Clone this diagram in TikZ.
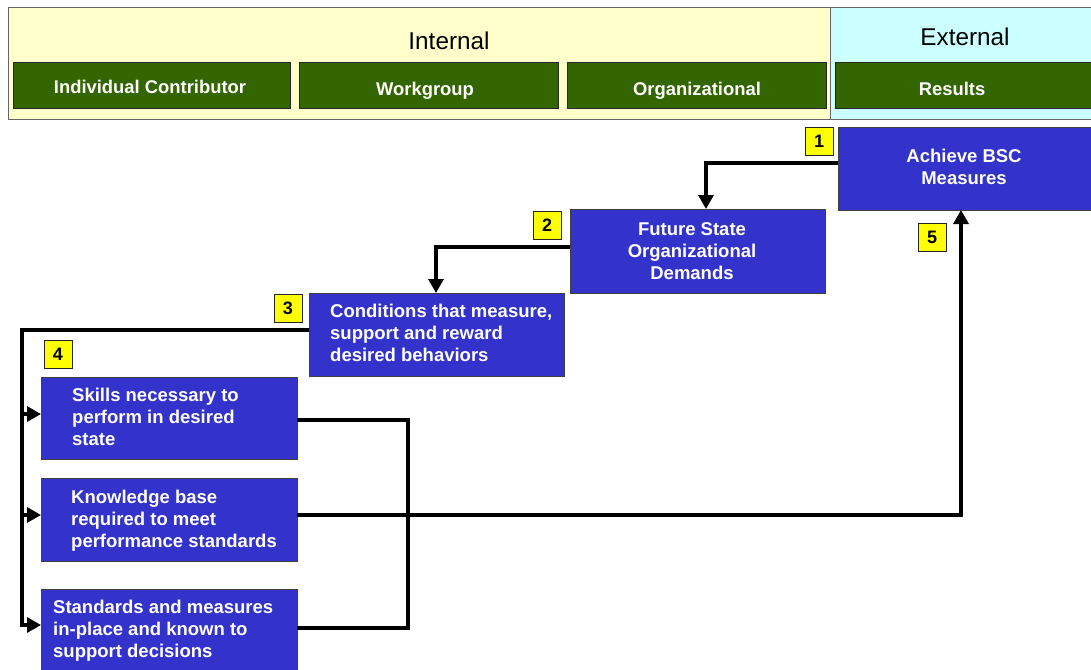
\documentclass[tikz,border=0pt]{standalone}
\usepackage{fontspec}
\setmainfont{Liberation Sans}
\usetikzlibrary{arrows.meta,calc}
\definecolor{hdrY}{HTML}{FFFFCC}
\definecolor{hdrC}{HTML}{CCFFFF}
\definecolor{grn}{HTML}{336600}
\definecolor{blu}{HTML}{3333CC}
\definecolor{numY}{HTML}{FFFF00}
\definecolor{edge}{HTML}{404040}
\begin{document}
\begin{tikzpicture}[x=1pt,y=-1pt,
  panel/.style={draw=edge!80, line width=1pt, inner sep=0pt, outer sep=0pt, anchor=north west},
  gbox/.style={fill=grn, draw=black!85, line width=1pt, inner sep=0pt, outer sep=0pt, anchor=north west},
  bbox/.style={fill=blu, draw=edge, line width=1pt, inner sep=0pt, outer sep=0pt, anchor=north west},
  gtext/.style={text=white, font=\bfseries\fontsize{18.4}{22}\selectfont, inner sep=0pt, anchor=base},
  htext/.style={text=black, font=\fontsize{24.3}{28}\selectfont, inner sep=0pt},
  btext/.style={text=white, font=\bfseries\fontsize{18.5}{22}\selectfont, inner sep=0pt},
  numbox/.style={fill=numY, draw=black!85, line width=1pt, minimum size=28pt, inner sep=0pt, outer sep=0pt, font=\bfseries\fontsize{18}{20}\selectfont},
  conn/.style={draw=black, line width=3.2pt, -{Triangle[length=14pt,width=15pt]}},
  plainline/.style={draw=black, line width=3.2pt}
]
\useasboundingbox (0,0) rectangle (1091,669);

% header panels
\node[panel, fill=hdrY, minimum width=822pt, minimum height=111pt] (internal) at (8,8) {};
\node[panel, fill=hdrC, minimum width=266pt, minimum height=111pt] (external) at (830,8) {};
\node[htext] (tint) at (449,41) {Internal};
\node[htext] (text) at (965,37) {External};

% green category boxes
\node[gbox, minimum width=277pt, minimum height=46pt] (ic) at (13,62) {};
\node[gbox, minimum width=259pt, minimum height=46pt] (wg) at (299,62) {};
\node[gbox, minimum width=259pt, minimum height=46pt] (org) at (567,62) {};
\node[gbox, minimum width=262pt, minimum height=46pt] (res) at (835,62) {};
\node[gtext] (tic) at (150,93) {Individual Contributor};
\node[gtext] (twg) at (425,95) {Workgroup};
\node[gtext] (torg) at (697,95) {Organizational};
\node[gtext] (tres) at (952,95) {Results};

% blue boxes
\node[bbox, minimum width=256pt, minimum height=83pt] (achieve) at (838,127) {};
\node[bbox, minimum width=255pt, minimum height=84pt] (future) at (570,209) {};
\node[bbox, minimum width=255pt, minimum height=83pt] (conditions) at (309,293) {};
\node[bbox, minimum width=256pt, minimum height=82pt] (skills) at (41,377) {};
\node[bbox, minimum width=256pt, minimum height=83pt] (knowledge) at (41,478) {};
\node[bbox, minimum width=256pt, minimum height=84pt] (standards) at (41,589) {};

\node[btext, align=center] (tach) at (964,167) {Achieve BSC\\Measures};
\node[btext, align=center] (tfut) at (692,251) {Future State\\Organizational\\Demands};
\node[btext, align=left, anchor=west] (tcond) at (330,333) {Conditions that measure,\\support and reward\\desired behaviors};
\node[btext, align=left, anchor=west] (tskills) at (72,417) {Skills necessary to\\perform in desired\\state};
\node[btext, align=left, anchor=west] (tknow) at (71,520.5) {Knowledge base\\required to meet\\performance standards};
\node[btext, align=left, anchor=west] (tstd) at (53,630.5) {Standards and measures\\in-place and known to\\support decisions};

% number tags
\node[numbox] (n1) at (819,141) {1};
\node[numbox] (n2) at (547,225) {2};
\node[numbox] (n3) at (288,308) {3};
\node[numbox] (n4) at (58,354) {4};
\node[numbox] (n5) at (932,237) {5};

% connectors
\draw[conn] ($(achieve.north west)+(0,36)$) -| ($(future.north west)+(136,0)$);
\draw[conn] ($(future.north west)+(0,38)$) -| ($(conditions.north west)+(127,0)$);

\coordinate (busTop) at (22,330);
\draw[conn] ($(conditions.north west)+(0,37)$) -- (busTop) |- ($(standards.north west)+(0,36)$);
\draw[conn] (busTop |- {$(skills.north west)+(0,37)$}) -- ($(skills.north west)+(0,37)$);
\draw[conn] (busTop |- {$(knowledge.north west)+(0,37)$}) -- ($(knowledge.north west)+(0,37)$);

\draw[plainline] ($(skills.north east)+(0,43)$) -| ($(standards.north east)+(111,39)$) -- ($(standards.north east)+(0,39)$);

\draw[conn] ($(knowledge.north east)+(0,37)$) -| ($(achieve.south west)+(123,0)$);
\end{tikzpicture}
\end{document}
